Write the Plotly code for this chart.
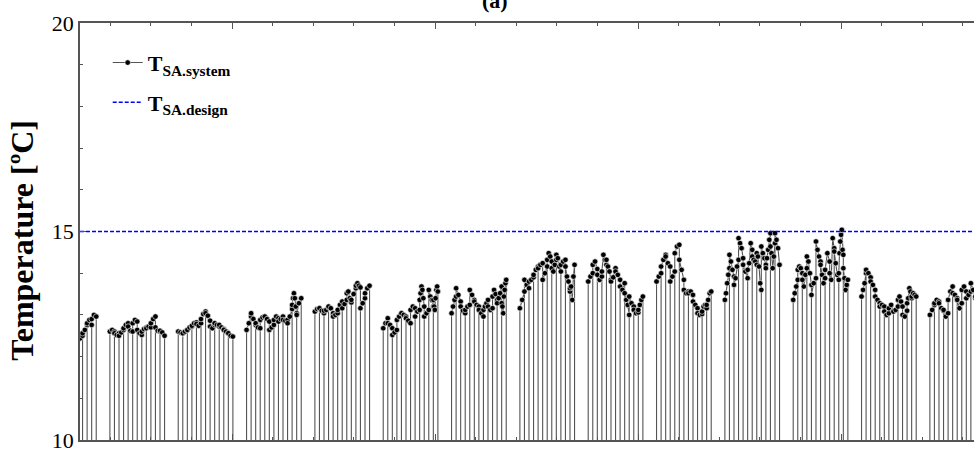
import plotly.graph_objects as go

# ---------------- data ----------------
# Each day: list of operating segments; each segment holds the sampled
# supply-air temperatures [°C]; between segments the system reading drops to 0.
day_00 = [[12.40, 12.44, 12.50], [12.56, 12.64, 12.76], [12.80, 12.88, 12.76], [12.90, 13.00, 12.96]]
day_01 = [[12.60, 12.64, 12.60], [12.56, 12.52, 12.56], [12.50, 12.58, 12.64], [12.68, 12.76, 12.80],
          [12.72, 12.62, 12.60], [12.80, 12.88, 12.84], [12.64, 12.56, 12.52], [12.60, 12.66, 12.70],
          [12.68, 12.72, 12.70], [12.80, 12.90, 12.96], [12.70, 12.62, 12.60], [12.62, 12.58, 12.50]]
day_02 = [[12.60, 12.58, 12.56], [12.56, 12.60, 12.64], [12.64, 12.70, 12.72], [12.74, 12.80, 12.82],
          [12.78, 12.74, 12.80], [12.90, 13.02, 13.08], [13.04, 12.98, 12.86], [12.72, 12.68, 12.76],
          [12.80, 12.76, 12.72], [12.76, 12.70, 12.66], [12.64, 12.60, 12.56], [12.56, 12.50, 12.48]]
day_03 = [[12.64, 12.80, 12.96], [13.04, 12.90, 12.76], [12.80, 12.70, 12.68], [12.88, 12.94, 12.96],
          [12.96, 12.90, 12.84], [12.64, 12.70, 12.76], [12.88, 12.96, 12.92], [12.84, 12.90, 12.96],
          [12.88, 12.86, 12.88], [12.80, 12.96, 13.14], [13.24, 13.40, 13.52, 13.40, 13.20, 13.04],
          [13.00, 13.28, 13.40]]
day_04 = [[13.08, 13.14, 13.16], [13.16, 13.10, 13.04], [13.10, 13.12, 13.18], [13.20, 13.16, 13.04],
          [12.96, 13.00, 13.04], [13.12, 13.24, 13.32], [13.16, 13.26, 13.36], [13.52, 13.56, 13.40, 13.30],
          [13.36, 13.50, 13.64], [13.70, 13.76, 13.70, 13.66], [13.16, 13.28, 13.40], [13.52, 13.64, 13.70]]
day_05 = [[12.68, 12.80, 12.92], [12.80, 12.76, 12.68], [12.52, 12.58, 12.64], [12.88, 12.96, 13.04],
          [13.04, 13.00, 12.96], [12.92, 12.86, 12.80], [13.12, 13.20, 13.16], [12.96, 13.08, 13.12],
          [13.36, 13.52, 13.68, 13.60, 13.40, 13.20], [12.96, 13.04, 13.12], [13.60, 13.44, 13.36, 13.20],
          [13.36, 13.20, 13.12, 13.40, 13.60, 13.68, 13.56]]
day_06 = [[13.04, 13.20, 13.36, 13.44], [13.64, 13.48, 13.32], [13.20, 13.10, 13.04], [13.12, 13.20, 13.24],
          [13.60, 13.48, 13.36], [13.32, 13.24, 13.20], [13.12, 13.04, 12.96], [13.12, 13.20, 13.28, 13.36],
          [13.20, 13.12, 13.16], [13.44, 13.60, 13.50, 13.36], [13.28, 13.40, 13.52, 13.68],
          [13.28, 13.20, 13.04, 13.44, 13.60, 13.76, 13.84]]
day_07 = [[13.16, 13.36, 13.56], [13.84, 13.72, 13.64], [13.80, 13.84, 13.90], [13.96, 14.08, 14.16],
          [14.12, 14.20, 14.24], [13.84, 14.00, 14.16], [14.32, 14.48, 14.40, 14.28], [14.12, 14.04, 14.20, 14.32],
          [14.44, 14.36, 14.16, 14.04], [14.20, 14.28, 14.32], [14.16, 13.92, 13.80, 13.56],
          [13.64, 13.68, 13.36, 13.92, 14.20]]
day_08 = [[13.80, 13.92, 14.00], [14.20, 14.28, 14.10], [13.96, 13.84, 13.92], [14.04, 14.44, 14.32, 14.20],
          [14.32, 14.16, 14.04, 13.84], [13.80, 13.90, 14.12], [14.04, 13.96, 13.84], [13.68, 13.60, 13.76],
          [13.52, 13.36, 13.24, 13.00], [13.44, 13.28, 13.20], [13.12, 13.04, 13.06], [13.12, 13.24, 13.36, 13.44]]
day_09 = [[13.80, 13.92, 14.00], [14.16, 14.32, 14.44], [14.40, 14.24, 14.16], [13.80, 13.92, 14.04],
          [14.48, 14.64, 14.68], [14.32, 14.08, 13.84], [13.60, 13.52, 13.56], [13.52, 13.56, 13.48],
          [13.32, 13.24, 13.16], [13.04, 13.00, 13.02], [13.08, 13.20, 13.24, 13.16], [13.24, 13.36, 13.52, 13.56]]
day_10 = [[13.36, 13.52, 13.76, 13.96, 14.12], [14.44, 14.28, 14.08, 13.92], [13.72, 13.88, 14.16, 14.32],
          [14.84, 14.72, 14.60, 14.36], [14.20, 14.04, 13.88], [14.08, 14.24, 14.72, 14.56],
          [14.40, 14.32, 14.28, 14.20], [14.48, 14.40, 14.16, 13.76, 13.60], [14.64, 14.48, 14.36, 14.20],
          [14.12, 14.36, 14.56, 14.80, 14.96], [14.64, 14.48, 14.12, 14.40, 14.72], [14.96, 14.80, 14.60, 14.20]]
day_11 = [[13.36, 13.52, 13.68, 13.84], [14.08, 14.16, 14.12, 14.00], [13.84, 13.68, 13.96, 14.12],
          [14.40, 14.28, 14.00, 13.72], [13.48, 13.76, 13.88], [14.76, 14.56, 14.40, 14.28],
          [14.20, 13.96, 13.76, 13.88], [14.08, 14.48, 14.28], [14.00, 13.84, 14.84, 14.60],
          [14.52, 14.24, 13.96, 13.84], [14.00, 14.48, 14.76, 14.92, 15.04, 14.56, 14.44],
          [14.12, 13.88, 13.60, 13.72, 13.84]]
day_12 = [[13.44, 13.60, 13.76, 14.00], [14.08, 14.00, 13.90], [13.80, 13.72, 13.60], [13.44, 13.36, 13.28],
          [13.20, 13.24, 13.20], [13.08, 13.00, 13.04], [13.16, 13.24, 13.10], [13.08, 13.12, 13.20],
          [13.36, 13.44, 13.32, 13.20], [13.00, 12.96, 13.10], [13.28, 13.40, 13.64, 13.56, 13.40],
          [13.44, 13.52, 13.48, 13.44]]
day_13 = [[13.00, 13.12, 13.24], [13.28, 13.36, 13.32], [13.28, 13.16, 13.10], [13.12, 12.96, 13.04],
          [13.36, 13.56, 13.68], [13.52, 13.48, 13.40], [13.36, 13.16, 13.28], [13.60, 13.68, 13.56],
          [13.40, 13.48, 13.56], [13.76, 13.60, 13.40], [13.44, 13.48, 13.60], [13.68, 13.84, 13.90]]

days = [day_00, day_01, day_02, day_03, day_04, day_05, day_06,
        day_07, day_08, day_09, day_10, day_11, day_12, day_13]
first_segment = [8] + [0] * 13     # first day is only partly shown (its end)

T_design = 15.0                     # design supply-air temperature
off_value = 0.0                     # reading when the system is off

seg_hours = 1.6                     # length of one operating segment [h]
start_hour = 5.0                    # operation starts at 05:00 each day
x_range = [18.5, 332.5]             # hours shown

# ---------------- build the series ----------------
xs, ys = [], []
for k, segs in enumerate(days):
    s0 = start_hour + 24 * k + seg_hours * first_segment[k]
    xs.append(s0); ys.append(off_value)
    for i, seg in enumerate(segs):
        s = s0 + i * seg_hours
        n = len(seg)
        for j, v in enumerate(seg):
            xs.append(s + seg_hours * j / (n - 1)); ys.append(v)
        xs.append(s + seg_hours); ys.append(off_value)

serif = "Liberation Serif, Times New Roman, serif"

fig = go.Figure()
fig.add_trace(go.Scatter(
    x=xs, y=ys, mode="lines+markers",
    name="<b>T<sub>SA.system</sub></b>", legendgroup="a",
    line=dict(color="#555555", width=1.1),
    marker=dict(symbol="circle", size=5.5, color="black",
                line=dict(color="white", width=0.6)),
))
fig.add_trace(go.Scatter(
    x=x_range, y=[T_design, T_design], mode="lines",
    name="<b>T<sub>SA.design</sub></b>", legendgroup="b",
    line=dict(color="#0000ff", width=1.5, dash="4px,2px"),
))

fig.update_layout(
    width=974, height=453,
    margin=dict(l=80, r=0, t=23, b=13),
    paper_bgcolor="white", plot_bgcolor="white",
    font=dict(family=serif, color="black"),
    showlegend=True,
    legend=dict(x=0.031, y=0.955, xanchor="left", yanchor="top",
                bgcolor="rgba(0,0,0,0)", font=dict(size=22, family=serif),
                tracegroupgap=8, itemwidth=30),
    annotations=[
        dict(text="<b>(a)</b>", xref="paper", yref="paper", x=0.464, y=1.053,
             xanchor="center", yanchor="middle", showarrow=False,
             font=dict(size=22, family=serif)),
        dict(text="<b>Temperature [ºC]</b>", xref="paper", yref="paper", x=-0.065, y=0.48,
             xanchor="center", yanchor="middle", textangle=-90, showarrow=False,
             font=dict(size=32, family=serif)),
    ],
)
fig.update_xaxes(
    range=x_range, showgrid=False, zeroline=False,
    showline=True, linecolor="#555", linewidth=1.5, mirror="ticks",
    ticks="inside", ticklen=6, tickcolor="#555", tick0=71.9, dtick=71.3,
    showticklabels=False,
    minor=dict(ticks="inside", ticklen=3, tick0=71.9, dtick=71.3 / 5, tickcolor="#555"),
)
fig.update_yaxes(
    range=[10, 20], showgrid=False, zeroline=False,
    showline=True, linecolor="#555", linewidth=1.5,
    ticks="inside", ticklen=6, tickcolor="#555", tick0=10, dtick=5,
    tickfont=dict(size=22, family=serif),
    minor=dict(ticks="inside", ticklen=3, dtick=1, tickcolor="#555"),
)

fig.write_html("out.html", config={"displayModeBar": False},
               post_script="document.body.style.margin='0px';")
